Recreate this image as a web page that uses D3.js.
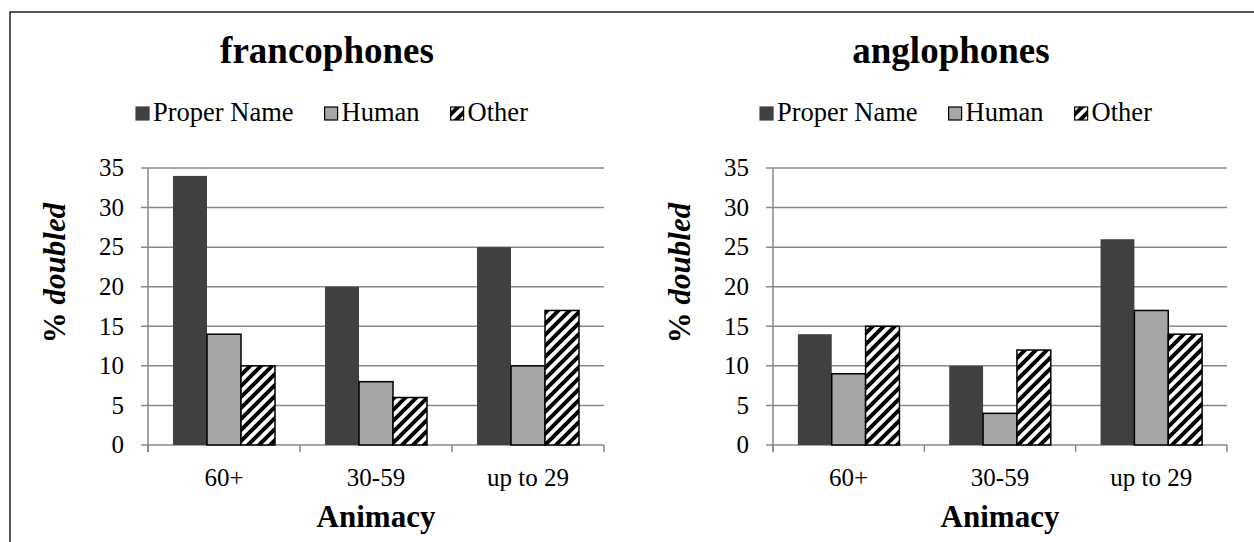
<!DOCTYPE html>
<html>
<head>
<meta charset="utf-8">
<script src="https://cdn.jsdelivr.net/npm/d3@7"></script>
<style>
  html, body { margin: 0; padding: 0; background: #fff; }
  svg { display: block; font-family: "Liberation Serif", "Times New Roman", serif; }
</style>
</head>
<body>
<svg id="graph" width="1254" height="542"></svg>
<script>
// data
let categories = ["60+", "30-59", "up to 29"];
let series_names = ["Proper Name", "Human", "Other"];
let y_ticks = [0, 5, 10, 15, 20, 25, 30, 35];

let franco_proper = [34, 20, 25];
let franco_human = [14, 8, 10];
let franco_other = [10, 6, 17];

let anglo_proper = [14, 10, 26];
let anglo_human = [9, 4, 17];
let anglo_other = [15, 12, 14];

let panels = [
  {title: "francophones", values: [franco_proper, franco_human, franco_other],
   plot: {x0: 148, x1: 604}, title_x: 327, legend_x: 332, ytitle_x: 54},
  {title: "anglophones", values: [anglo_proper, anglo_human, anglo_other],
   plot: {x0: 773, x1: 1227}, title_x: 951, legend_x: 956, ytitle_x: 679}
];

let layout = {
  plot_top: 168, plot_bottom: 445,
  title_y: 63, legend_y: 121,
  cat_label_y: 486, xtitle_y: 527, ytitle_y: 273,
  font: {tick: 25, legend: 26.5, title: 37, axis: 31}
};

let graph = d3.select('#graph');

// hatch pattern (wide upward diagonal)
let defs = graph.append('defs');
let hs = 11;
let pat = defs.append('pattern').attr('id', 'hatch')
  .attr('patternUnits', 'userSpaceOnUse').attr('width', hs).attr('height', hs);
pat.append('rect').attr('width', hs).attr('height', hs).style('fill', '#fff');
pat.append('path')
  .attr('d', 'M-3,3 L3,-3 M0,' + hs + ' L' + hs + ',0 M' + (hs - 3) + ',' + (hs + 3) + ' L' + (hs + 3) + ',' + (hs - 3))
  .style('stroke', '#000').style('stroke-width', 4);

let fills = ['#404040', '#a6a6a6', 'url(#hatch)'];
let strokes = ['none', '#000', '#000'];

// outer frame
graph.append('path').attr('d', 'M10,542 L10,12 L1254,12')
  .style('fill', 'none').style('stroke', '#222').style('stroke-width', 1.5);

let y = d3.scaleLinear().domain([0, 35]).range([layout.plot_bottom, layout.plot_top]);

let draw_panel = function(p) {
  let g = graph.append('g');
  let x0 = d3.scaleBand().domain(categories).range([p.plot.x0, p.plot.x1]).padding(0);
  let x1 = d3.scaleBand().domain(series_names).range([0, x0.bandwidth()])
    .paddingInner(0).paddingOuter(0.735);

  // gridlines + y ticks
  g.append('g').attr('class', 'grid')
    .selectAll('line').data(y_ticks).enter().append('line')
    .attr('x1', p.plot.x0 - 7).attr('x2', p.plot.x1)
    .attr('y1', function(d) { return y(d); }).attr('y2', function(d) { return y(d); })
    .style('stroke', '#878787').style('stroke-width', 1.5);

  g.append('g').selectAll('text').data(y_ticks).enter().append('text')
    .attr('x', p.plot.x0 - 24).attr('y', function(d) { return y(d); })
    .attr('dy', '0.33em').attr('text-anchor', 'end')
    .style('font-size', layout.font.tick + 'px').text(function(d) { return d; });

  // y axis line
  g.append('line').attr('x1', p.plot.x0).attr('x2', p.plot.x0)
    .attr('y1', layout.plot_top).attr('y2', layout.plot_bottom + 7)
    .style('stroke', '#878787').style('stroke-width', 1.5);

  // x ticks at category boundaries
  let bounds = categories.map(function(c) { return x0(c); }).concat([p.plot.x1]);
  g.append('g').selectAll('line').data(bounds).enter().append('line')
    .attr('x1', function(d) { return d; }).attr('x2', function(d) { return d; })
    .attr('y1', layout.plot_bottom).attr('y2', layout.plot_bottom + 7)
    .style('stroke', '#878787').style('stroke-width', 1.5);

  // bars
  series_names.forEach(function(s, si) {
    g.append('g').selectAll('rect').data(p.values[si]).enter().append('rect')
      .attr('x', function(d, i) { return x0(categories[i]) + x1(s); })
      .attr('y', function(d) { return y(d); })
      .attr('width', x1.bandwidth())
      .attr('height', function(d) { return y(0) - y(d); })
      .style('fill', fills[si]).style('stroke', strokes[si]).style('stroke-width', 1.5);
  });

  // category labels
  g.append('g').selectAll('text').data(categories).enter().append('text')
    .attr('x', function(d) { return x0(d) + x0.bandwidth() / 2; })
    .attr('y', layout.cat_label_y).attr('text-anchor', 'middle')
    .style('font-size', layout.font.tick + 'px').text(function(d) { return d; });

  // axis titles
  g.append('text').attr('x', (p.plot.x0 + p.plot.x1) / 2).attr('y', layout.xtitle_y)
    .attr('text-anchor', 'middle').style('font-weight', 'bold')
    .style('font-size', layout.font.axis + 'px').text('Animacy');

  let yt = g.append('text')
    .attr('transform', 'translate(' + (p.ytitle_x + 11) + ',' + layout.ytitle_y + ') rotate(-90)')
    .attr('text-anchor', 'middle').style('font-weight', 'bold')
    .style('font-size', layout.font.axis + 'px');
  yt.append('tspan').text('% ');
  yt.append('tspan').style('font-style', 'italic').text('doubled');

  // title
  g.append('text').attr('x', p.title_x).attr('y', layout.title_y)
    .attr('text-anchor', 'middle').style('font-weight', 'bold')
    .style('font-size', layout.font.title + 'px').text(p.title);

  // legend
  let lg = g.append('g');
  let cx = 0;
  series_names.forEach(function(s, si) {
    lg.append('rect').attr('x', cx).attr('y', layout.legend_y - 14)
      .attr('width', 13).attr('height', 13)
      .style('fill', fills[si]).style('stroke', si == 0 ? '#404040' : '#000').style('stroke-width', 1.2);
    let t = lg.append('text').attr('x', cx + 17).attr('y', layout.legend_y)
      .style('font-size', layout.font.legend + 'px').text(s);
    cx += 17 + t.node().getComputedTextLength() + 31;
  });
  let lw = cx - 31;
  lg.attr('transform', 'translate(' + (p.legend_x - lw / 2) + ',0)');
};

panels.forEach(draw_panel);
</script>
</body>
</html>
